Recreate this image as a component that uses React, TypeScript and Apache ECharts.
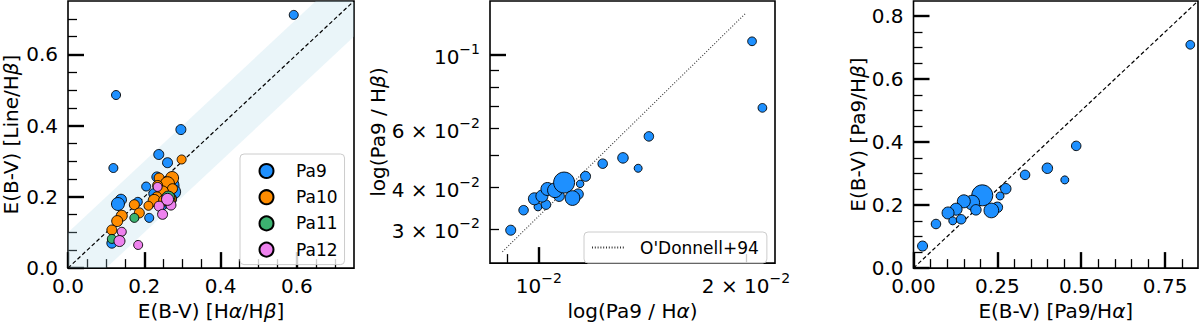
import React, { useEffect, useRef } from "react";
import * as echarts from "echarts";

const FONT = "DejaVu Sans";

// ---------------- Left panel: E(B-V) [Line/Hβ] vs E(B-V) [Hα/Hβ] ----------------
// each point: [E(B-V) Hα/Hβ, E(B-V) Line/Hβ, marker size]
const leftPa9: number[][] = [
  [0.265, 0.231, 20], [0.277, 0.214, 14], [0.225, 0.209, 10], [0.255, 0.185, 12],
  [0.27, 0.193, 11], [0.245, 0.175, 10],
  [0.592, 0.711, 9], [0.126, 0.486, 9], [0.296, 0.389, 10], [0.238, 0.319, 10],
  [0.261, 0.296, 10], [0.119, 0.281, 9], [0.233, 0.256, 10], [0.205, 0.229, 9],
  [0.139, 0.192, 11], [0.131, 0.18, 13], [0.183, 0.186, 9], [0.213, 0.141, 9],
  [0.115, 0.07, 10],
];
const leftPa10: number[][] = [
  [0.298, 0.305, 9], [0.239, 0.253, 10], [0.273, 0.253, 13], [0.261, 0.237, 14],
  [0.235, 0.232, 10], [0.274, 0.223, 10], [0.248, 0.214, 12], [0.233, 0.2, 10],
  [0.226, 0.19, 12], [0.174, 0.178, 10], [0.187, 0.155, 10], [0.211, 0.175, 9],
  [0.141, 0.147, 11], [0.129, 0.132, 11], [0.115, 0.107, 10], [0.268, 0.195, 12],
  [0.252, 0.19, 11],
];
const leftPa11: number[][] = [
  [0.174, 0.141, 9], [0.115, 0.082, 9], [0.263, 0.198, 13],
];
const leftPa12: number[][] = [
  [0.235, 0.228, 9], [0.239, 0.174, 10], [0.27, 0.177, 10], [0.248, 0.151, 10],
  [0.261, 0.193, 12], [0.141, 0.102, 9], [0.135, 0.076, 11], [0.184, 0.065, 9],
];
const leftRange = [0, 0.75];
const leftMajorTicks = [0, 0.2, 0.4, 0.6];
const leftMinorTicks = [0.05, 0.1, 0.15, 0.25, 0.3, 0.35, 0.45, 0.5, 0.55, 0.65, 0.7];
const leftBandX = [0, 0.1, 0.75, 0.75, 0.65, 0];
const leftBandY = [0, 0, 0.65, 0.75, 0.75, 0.1];
const leftDiagX = [0, 0.75];
const leftDiagY = [0, 0.75];

// ---------------- Middle panel: Pa9/Hβ vs Pa9/Hα (log-log) ----------------
const midPa9Ha = [
  0.0091, 0.0095, 0.00997, 0.01024, 0.00985, 0.0101, 0.01029, 0.0107, 0.01055,
  0.0114, 0.01148, 0.01169, 0.01238, 0.01394, 0.01325, 0.01445, 0.02041, 0.02113,
  0.01088, 0.01119,
];
const midPa9Hb = [
  0.02971, 0.03412, 0.03491, 0.03545, 0.03691, 0.03759, 0.0395, 0.03759, 0.03916,
  0.03811, 0.04093, 0.0431, 0.04705, 0.04558, 0.04897, 0.05681, 0.1096, 0.0692,
  0.0413, 0.0371,
];
const midSize = [10, 9.5, 8, 9.5, 12, 12, 13, 10.5, 14.7, 10.5, 7.5, 10, 9.5, 8, 10.5, 9.5, 8.7, 8.7, 21, 14.7];
const odonnellX = [0.00885, 0.02];
const odonnellY = [0.0256, 0.1333];
const midXRange = [0.00849, 0.02204];
const midYRange = [0.02367, 0.1448];
const midXMajor = [0.01];
const midXMinor = [0.009, 0.02];
const midXLabelVals = [0.01, 0.02];
const midXLabelBase = ["10", "2 × 10"];
const midXLabelExp = ["−2", "−2"];
const midYMajor = [0.1];
const midYMinor = [0.03, 0.04, 0.05, 0.06, 0.07, 0.08, 0.09];
const midYLabelVals = [0.03, 0.04, 0.06, 0.1];
const midYLabelBase = ["3 × 10", "4 × 10", "6 × 10", "10"];
const midYLabelExp = ["−2", "−2", "−2", "−1"];

// ---------------- Right panel: E(B-V) [Pa9/Hβ] vs E(B-V) [Pa9/Hα] ----------------
const rightX = [
  0.825, 0.485, 0.399, 0.451, 0.3325, 0.275, 0.258, 0.25, 0.232, 0.205,
  0.175, 0.186, 0.15, 0.127, 0.103, 0.117, 0.142, 0.067, 0.027,
];
const rightY = [
  0.709, 0.388, 0.317, 0.28, 0.296, 0.252, 0.229, 0.193, 0.183, 0.231,
  0.208, 0.185, 0.212, 0.187, 0.175, 0.15, 0.155, 0.14, 0.07,
];
const rightSize = [8.7, 9.5, 10.5, 8, 9.5, 10.5, 8, 10.5, 14.7, 21, 14.7, 10.5, 13, 12, 12, 8, 9.5, 9.5, 10];
const rightRange = [0, 0.848];
const rightXMajor = [0, 0.25, 0.5, 0.75];
const rightXMinor = [0.05, 0.1, 0.15, 0.2, 0.3, 0.35, 0.4, 0.45, 0.55, 0.6, 0.65, 0.7, 0.8];
const rightYMajor = [0, 0.2, 0.4, 0.6, 0.8];
const rightYMinor = [0.05, 0.1, 0.15, 0.25, 0.3, 0.35, 0.45, 0.5, 0.55, 0.65, 0.7, 0.75];
const rightDiagX = [0, 0.848];
const rightDiagY = [0, 0.848];

const COLORS = {
  Pa9: "#1e90ff",
  Pa10: "#ff8c00",
  Pa11: "#3cb371",
  Pa12: "#ee82ee",
};

const nameRich = {
  n: { fontSize: 20, fontFamily: FONT, color: "#000" },
  g: { fontSize: 20, fontFamily: FONT, color: "#000", fontStyle: "italic" },
};
const supRich = {
  m: { fontSize: 20, fontFamily: FONT, color: "#000", lineHeight: 25, verticalAlign: "bottom" },
  s: { fontSize: 14, fontFamily: FONT, color: "#000", lineHeight: 14, verticalAlign: "top" },
};

function axisPair(
  kind: "x" | "y",
  grid: number,
  min: number,
  max: number,
  major: number[],
  minor: number[],
  labelVals: number[],
  fmt: (v: number) => string,
  name: string,
  nameGap: number,
  rich?: any
) {
  const base: any = {
    type: "value",
    gridIndex: grid,
    min,
    max,
    position: kind === "x" ? "bottom" : "left",
    axisLine: { show: false, onZero: false },
    splitLine: { show: false },
    axisPointer: { show: false },
  };
  const main = {
    ...base,
    axisTick: {
      show: true,
      inside: true,
      length: 16,
      lineStyle: { color: "#000", width: 2.4 },
      customValues: major,
    },
    axisLabel: {
      show: true,
      customValues: labelVals,
      formatter: fmt,
      color: "#000",
      fontSize: 20,
      fontFamily: FONT,
      margin: kind === "x" ? 8 : 10,
      rich,
    },
    name,
    nameLocation: "middle",
    nameGap,
    nameTextStyle: { fontSize: 20, fontFamily: FONT, color: "#000", rich: nameRich },
  };
  const minorAxis = {
    ...base,
    axisTick: {
      show: true,
      inside: true,
      length: 9,
      lineStyle: { color: "#000", width: 1.3 },
      customValues: minor,
    },
    axisLabel: { show: false },
  };
  return [main, minorAxis];
}

function findLabel(v: number, vals: number[], base: string[], exp: string[]) {
  let best = 0;
  for (let i = 0; i < vals.length; i++) {
    if (Math.abs(Math.log10(vals[i]) - v) < Math.abs(Math.log10(vals[best]) - v)) best = i;
  }
  return "{m|" + base[best] + "}{s|" + exp[best] + "}";
}

const log = (a: number[]) => a.map((v) => Math.log10(v));

function scatter(name: string, data: number[][], xi: number, yi: number, color: string) {
  return {
    type: "scatter",
    name,
    xAxisIndex: xi,
    yAxisIndex: yi,
    data,
    symbol: "circle",
    symbolSize: (v: number[]) => v[2],
    itemStyle: { color, borderColor: "#000", borderWidth: 0.9, opacity: 1 },
    emphasis: { disabled: true },
    silent: true,
    z: 3,
  };
}

export default function App() {
  const ref = useRef<HTMLDivElement>(null);
  useEffect(() => {
    if (!ref.current) return;
    const chart = echarts.init(ref.current, undefined, { renderer: "svg" });

    const lx = axisPair("x", 0, leftRange[0], leftRange[1], leftMajorTicks, leftMinorTicks, leftMajorTicks,
      (v) => v.toFixed(1), "{n|E(B-V) [H}{g|α}{n|/H}{g|β}{n|]}", 24);
    const ly = axisPair("y", 0, leftRange[0], leftRange[1], leftMajorTicks, leftMinorTicks, leftMajorTicks,
      (v) => v.toFixed(1), "{n|E(B-V) [Line/H}{g|β}{n|]}", 47);
    const mx = axisPair("x", 1, Math.log10(midXRange[0]), Math.log10(midXRange[1]), log(midXMajor), log(midXMinor),
      log(midXLabelVals), (v) => findLabel(v, midXLabelVals, midXLabelBase, midXLabelExp),
      "{n|log(Pa9 / H}{g|α}{n|)}", 24, supRich);
    const my = axisPair("y", 1, Math.log10(midYRange[0]), Math.log10(midYRange[1]), log(midYMajor), log(midYMinor),
      log(midYLabelVals), (v) => findLabel(v, midYLabelVals, midYLabelBase, midYLabelExp),
      "{n|log(Pa9 / H}{g|β}{n|)}", 96, supRich);
    const rx = axisPair("x", 2, rightRange[0], rightRange[1], rightXMajor, rightXMinor, rightXMajor,
      (v) => v.toFixed(2), "{n|E(B-V) [Pa9/H}{g|α}{n|]}", 24);
    const ry = axisPair("y", 2, rightRange[0], rightRange[1], rightYMajor, rightYMinor, rightYMajor,
      (v) => v.toFixed(1), "{n|E(B-V) [Pa9/H}{g|β}{n|]}", 39);

    const gridStyle = { show: true, borderColor: "#000", borderWidth: 1.6, backgroundColor: "transparent" };

    const midData = midPa9Ha.map((x, i) => [Math.log10(x), Math.log10(midPa9Hb[i]), midSize[i]]);
    const rightData = rightX.map((x, i) => [x, rightY[i], rightSize[i]]);

    const option: any = {
      animation: false,
      textStyle: { fontFamily: FONT },
      grid: [
        { left: 66.5, top: 1, width: 287.5, height: 269, ...gridStyle },
        { left: 490, top: 1, width: 285, height: 269, ...gridStyle },
        { left: 913.5, top: 1, width: 284.5, height: 269, ...gridStyle },
      ],
      xAxis: [...lx, ...mx, ...rx],
      yAxis: [...ly, ...my, ...ry],
      legend: [
        {
          data: ["Pa9", "Pa10", "Pa11", "Pa12"],
          orient: "vertical",
          align: "left",
          left: 240,
          top: 154,
          itemWidth: 49,
          itemHeight: 14,
          itemGap: 8.2,
          padding: [8, 7, 6, 18.5],
          selectedMode: false,
          borderColor: "#cccccc",
          borderWidth: 1,
          borderRadius: 4,
          backgroundColor: "rgba(255,255,255,0.8)",
          textStyle: { fontSize: 17, lineHeight: 18, fontFamily: FONT, color: "#000" },
        },
        {
          data: ["O'Donnell+94"],
          left: 584,
          top: 232,
          itemWidth: 33,
          itemHeight: 14,
          padding: [7, 8, 7, 7],
          selectedMode: false,
          borderColor: "#cccccc",
          borderWidth: 1,
          borderRadius: 4,
          backgroundColor: "rgba(255,255,255,0.8)",
          itemStyle: { opacity: 0, borderWidth: 0 },
          textStyle: { fontSize: 17, fontFamily: FONT, color: "#000", padding: [0, 0, 0, 10] },
        },
      ],
      series: [
        {
          type: "custom",
          name: "band",
          xAxisIndex: 0,
          yAxisIndex: 0,
          silent: true,
          z: 1,
          data: [[leftBandX[0], leftBandY[0]]],
          renderItem: (params: any, api: any) => {
            const pts = leftBandX.map((x, i) => api.coord([x, leftBandY[i]]));
            return {
              type: "polygon",
              shape: { points: pts },
              style: { fill: "rgba(173,216,230,0.25)", stroke: "none" },
            };
          },
        },
        {
          type: "line",
          name: "diag-left",
          xAxisIndex: 0,
          yAxisIndex: 0,
          data: leftDiagX.map((x, i) => [x, leftDiagY[i]]),
          symbol: "none",
          silent: true,
          z: 2,
          lineStyle: { color: "#000", width: 1.2, type: [4, 2.5] },
        },
        scatter("Pa9", leftPa9, 0, 0, COLORS.Pa9),
        scatter("Pa10", leftPa10, 0, 0, COLORS.Pa10),
        scatter("Pa11", leftPa11, 0, 0, COLORS.Pa11),
        scatter("Pa12", leftPa12, 0, 0, COLORS.Pa12),
        {
          type: "line",
          name: "O'Donnell+94",
          xAxisIndex: 2,
          yAxisIndex: 2,
          data: odonnellX.map((x, i) => [Math.log10(x), Math.log10(odonnellY[i])]),
          symbol: "none",
          showSymbol: false,
          silent: true,
          z: 2,
          itemStyle: { color: "#333" },
          lineStyle: { color: "#333", width: 1.1, type: [1, 1.8] },
        },
        scatter("Pa9", midData, 2, 2, COLORS.Pa9),
        {
          type: "line",
          name: "diag-right",
          xAxisIndex: 4,
          yAxisIndex: 4,
          data: rightDiagX.map((x, i) => [x, rightDiagY[i]]),
          symbol: "none",
          silent: true,
          z: 2,
          lineStyle: { color: "#000", width: 1.2, type: [4, 2.5] },
        },
        scatter("Pa9", rightData, 4, 4, COLORS.Pa9),
      ],
    };
    chart.setOption(option);
    return () => chart.dispose();
  }, []);
  return (
    <div
      ref={ref}
      style={{ position: "fixed", left: 0, top: 0, width: 1200, height: 326, background: "#fff" }}
    />
  );
}
